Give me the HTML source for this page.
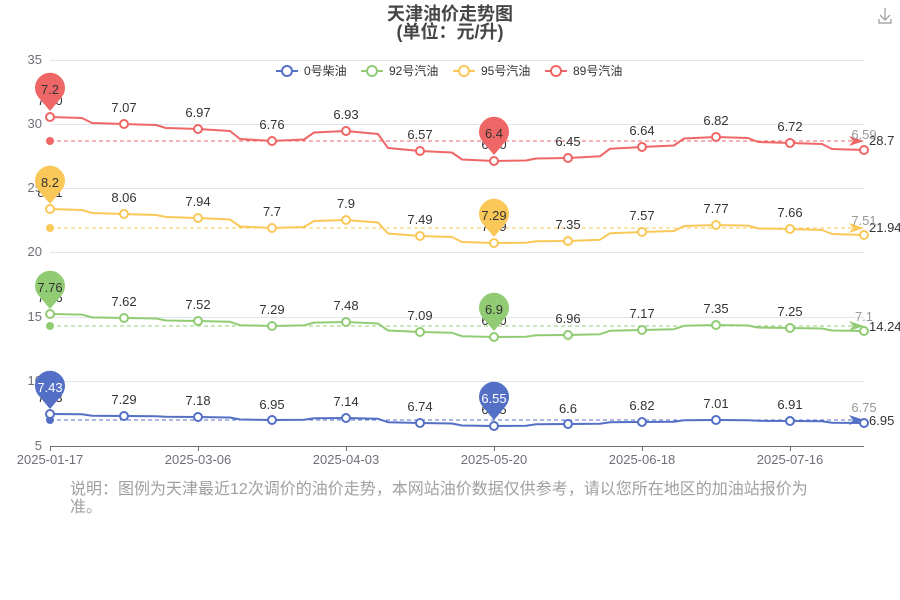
<!DOCTYPE html>
<html><head><meta charset="utf-8"><style>
body{margin:0;background:#fff;}
svg{display:block;font-family:"Liberation Sans","Noto Sans CJK SC",sans-serif;}
.l{font-size:13px;fill:#333;text-anchor:middle;}
.ax{font-size:13px;fill:#6e7079;}
</style></head><body>
<svg width="900" height="600" viewBox="0 0 900 600">
<text x="450" y="20" text-anchor="middle" font-size="18" font-weight="bold" fill="#464646">天津油价走势图</text>
<text x="450" y="38" text-anchor="middle" font-size="18" font-weight="bold" fill="#464646">(单位：元/升)</text>
<g stroke="#999" stroke-width="1.2" fill="none"><path d="M885 8v12M880 15l5 5 5-5M879 19v4h12v-4"/></g>
<g stroke="#e0e6f1" stroke-width="1">
<line x1="50" y1="60.5" x2="864" y2="60.5"/><line x1="50" y1="124.5" x2="864" y2="124.5"/><line x1="50" y1="188.5" x2="864" y2="188.5"/><line x1="50" y1="252.5" x2="864" y2="252.5"/><line x1="50" y1="317.5" x2="864" y2="317.5"/><line x1="50" y1="381.5" x2="864" y2="381.5"/>
</g>
<line x1="50" y1="446.5" x2="864" y2="446.5" stroke="#6e7079"/>
<g stroke="#6e7079"><line x1="50.5" y1="446" x2="50.5" y2="451"/><line x1="198.5" y1="446" x2="198.5" y2="451"/><line x1="346.5" y1="446" x2="346.5" y2="451"/><line x1="494.5" y1="446" x2="494.5" y2="451"/><line x1="642.5" y1="446" x2="642.5" y2="451"/><line x1="790.5" y1="446" x2="790.5" y2="451"/></g>
<g class="ax" text-anchor="end"><text x="42" y="64">35</text><text x="42" y="128">30</text><text x="42" y="192">25</text><text x="42" y="256">20</text><text x="42" y="321">15</text><text x="42" y="385">10</text><text x="42" y="450">5</text></g>
<g class="ax" text-anchor="middle"><text x="50" y="464">2025-01-17</text><text x="198" y="464">2025-03-06</text><text x="346" y="464">2025-04-03</text><text x="494" y="464">2025-05-20</text><text x="642" y="464">2025-06-18</text><text x="790" y="464">2025-07-16</text></g>
<g font-size="12" fill="#333">
<line x1="276" y1="71" x2="298" y2="71" stroke="#5470c6" stroke-width="2"/><circle cx="287" cy="71" r="5" fill="#fff" stroke="#5470c6" stroke-width="2"/><text x="304" y="75">0号柴油</text>
<line x1="361" y1="71" x2="383" y2="71" stroke="#91cc75" stroke-width="2"/><circle cx="372" cy="71" r="5" fill="#fff" stroke="#91cc75" stroke-width="2"/><text x="389" y="75">92号汽油</text>
<line x1="453" y1="71" x2="475" y2="71" stroke="#fac858" stroke-width="2"/><circle cx="464" cy="71" r="5" fill="#fff" stroke="#fac858" stroke-width="2"/><text x="481" y="75">95号汽油</text>
<line x1="545" y1="71" x2="567" y2="71" stroke="#ee6666" stroke-width="2"/><circle cx="556" cy="71" r="5" fill="#fff" stroke="#ee6666" stroke-width="2"/><text x="573" y="75">89号汽油</text>
</g>
<g stroke-dasharray="4,3" stroke-width="1">
<line x1="50" y1="141" x2="860" y2="141" stroke="#ee6666"/>
<line x1="50" y1="228" x2="860" y2="228" stroke="#fac858"/>
<line x1="50" y1="326" x2="860" y2="326" stroke="#91cc75"/>
<line x1="50" y1="420" x2="860" y2="420" stroke="#5470c6"/>
</g>
<circle cx="50" cy="141" r="4" fill="#ee6666"/><circle cx="50" cy="228" r="4" fill="#fac858"/><circle cx="50" cy="326" r="4" fill="#91cc75"/><circle cx="50" cy="420" r="4" fill="#5470c6"/>
<path d="M849 136l15 5-15 5 4-5z" fill="#ee6666"/><path d="M849 223l15 5-15 5 4-5z" fill="#fac858"/><path d="M849 321l15 5-15 5 4-5z" fill="#91cc75"/><path d="M849 415l15 5-15 5 4-5z" fill="#5470c6"/>
<g font-size="13" fill="#333"><text x="869" y="145">28.7</text><text x="869" y="232">21.94</text><text x="869" y="331">14.24</text><text x="869" y="425">6.95</text></g>
<g fill="none" stroke-width="2" stroke-linejoin="round">
<path stroke="#ee6666" d="M50,117 L82,118 L92,123 L124,124 L156,125 L166,128 L198,129 L230,131 L240,139 L272,141 L304,139.5 L314,132.5 L346,131 L378,134 L388,148 L420,151 L452,152.5 L462,159.5 L494,161 L526,160.5 L536,158.5 L568,158 L600,156.3 L610,148.7 L642,147 L674,145.5 L684,138.5 L716,137 L748,138 L758,142 L790,143 L822,144 L832,149 L864,150"/>
<path stroke="#fac858" d="M50,209 L82,210 L92,213 L124,214 L156,215 L166,217 L198,218 L230,219.5 L240,226.5 L272,228 L304,227 L314,221 L346,220 L378,222.5 L388,233.5 L420,236 L452,237 L462,242 L494,243 L526,242.7 L536,241.3 L568,241 L600,239.7 L610,233.3 L642,232 L674,231 L684,226 L716,225 L748,225.6 L758,228.4 L790,229 L822,230 L832,234 L864,235"/>
<path stroke="#91cc75" d="M50,314 L82,314.6 L92,317.4 L124,318 L156,318.5 L166,320.5 L198,321 L230,321.8 L240,325.2 L272,326 L304,325.4 L314,322.6 L346,322 L378,323.5 L388,330.5 L420,332 L452,332.8 L462,336.2 L494,337 L526,336.7 L536,335.3 L568,335 L600,334.2 L610,330.8 L642,330 L674,329.2 L684,325.8 L716,325 L748,325.5 L758,327.5 L790,328 L822,328.5 L832,330.5 L864,331"/>
<path stroke="#5470c6" d="M50,414 L82,414.3 L92,415.7 L124,416 L156,416.2 L166,416.8 L198,417 L230,417.5 L240,419.5 L272,420 L304,419.7 L314,418.3 L346,418 L378,418.8 L388,422.2 L420,423 L452,423.5 L462,425.5 L494,426 L526,425.7 L536,424.3 L568,424 L600,423.7 L610,422.3 L642,422 L674,421.7 L684,420.3 L716,420 L748,420.2 L758,420.8 L790,421 L822,421.3 L832,422.7 L864,423"/>
</g>
<g fill="#fff" stroke-width="2">
<g stroke="#ee6666"><circle cx="50" cy="117" r="4"/><circle cx="124" cy="124" r="4"/><circle cx="198" cy="129" r="4"/><circle cx="272" cy="141" r="4"/><circle cx="346" cy="131" r="4"/><circle cx="420" cy="151" r="4"/><circle cx="494" cy="161" r="4"/><circle cx="568" cy="158" r="4"/><circle cx="642" cy="147" r="4"/><circle cx="716" cy="137" r="4"/><circle cx="790" cy="143" r="4"/><circle cx="864" cy="150" r="4"/></g>
<g stroke="#fac858"><circle cx="50" cy="209" r="4"/><circle cx="124" cy="214" r="4"/><circle cx="198" cy="218" r="4"/><circle cx="272" cy="228" r="4"/><circle cx="346" cy="220" r="4"/><circle cx="420" cy="236" r="4"/><circle cx="494" cy="243" r="4"/><circle cx="568" cy="241" r="4"/><circle cx="642" cy="232" r="4"/><circle cx="716" cy="225" r="4"/><circle cx="790" cy="229" r="4"/><circle cx="864" cy="235" r="4"/></g>
<g stroke="#91cc75"><circle cx="50" cy="314" r="4"/><circle cx="124" cy="318" r="4"/><circle cx="198" cy="321" r="4"/><circle cx="272" cy="326" r="4"/><circle cx="346" cy="322" r="4"/><circle cx="420" cy="332" r="4"/><circle cx="494" cy="337" r="4"/><circle cx="568" cy="335" r="4"/><circle cx="642" cy="330" r="4"/><circle cx="716" cy="325" r="4"/><circle cx="790" cy="328" r="4"/><circle cx="864" cy="331" r="4"/></g>
<g stroke="#5470c6"><circle cx="50" cy="414" r="4"/><circle cx="124" cy="416" r="4"/><circle cx="198" cy="417" r="4"/><circle cx="272" cy="420" r="4"/><circle cx="346" cy="418" r="4"/><circle cx="420" cy="423" r="4"/><circle cx="494" cy="426" r="4"/><circle cx="568" cy="424" r="4"/><circle cx="642" cy="422" r="4"/><circle cx="716" cy="420" r="4"/><circle cx="790" cy="421" r="4"/><circle cx="864" cy="423" r="4"/></g>
</g>
<g class="l">
<text x="50" y="105">7.20</text><text x="124" y="112">7.07</text><text x="198" y="117">6.97</text><text x="272" y="129">6.76</text><text x="346" y="119">6.93</text><text x="420" y="139">6.57</text><text x="494" y="149">6.40</text><text x="568" y="146">6.45</text><text x="642" y="135">6.64</text><text x="716" y="125">6.82</text><text x="790" y="131">6.72</text><text x="864" y="139" fill="#999">6.59</text>
<text x="50" y="197">8.21</text><text x="124" y="202">8.06</text><text x="198" y="206">7.94</text><text x="272" y="216">7.7</text><text x="346" y="208">7.9</text><text x="420" y="224">7.49</text><text x="494" y="231">7.29</text><text x="568" y="229">7.35</text><text x="642" y="220">7.57</text><text x="716" y="213">7.77</text><text x="790" y="217">7.66</text><text x="864" y="225" fill="#999">7.51</text>
<text x="50" y="302">7.76</text><text x="124" y="306">7.62</text><text x="198" y="309">7.52</text><text x="272" y="314">7.29</text><text x="346" y="310">7.48</text><text x="420" y="320">7.09</text><text x="494" y="325">6.90</text><text x="568" y="323">6.96</text><text x="642" y="318">7.17</text><text x="716" y="313">7.35</text><text x="790" y="316">7.25</text><text x="864" y="321" fill="#999">7.1</text>
<text x="50" y="402">7.43</text><text x="124" y="404">7.29</text><text x="198" y="405">7.18</text><text x="272" y="409">6.95</text><text x="346" y="406">7.14</text><text x="420" y="411">6.74</text><text x="494" y="414">6.55</text><text x="568" y="413">6.6</text><text x="642" y="410">6.82</text><text x="716" y="408">7.01</text><text x="790" y="409">6.91</text><text x="864" y="412" fill="#999">6.75</text>
</g>
<g>
<path d="M50 111 L39 98 A15 15 0 1 1 61 98 Z" fill="#ee6666"/><text x="50" y="94" class="l">7.2</text>
<path d="M50 204 L39 191 A15 15 0 1 1 61 191 Z" fill="#fac858"/><text x="50" y="187" class="l">8.2</text>
<path d="M50 309 L39 296 A15 15 0 1 1 61 296 Z" fill="#91cc75"/><text x="50" y="292" class="l">7.76</text>
<path d="M50 409 L39 396 A15 15 0 1 1 61 396 Z" fill="#5470c6"/><text x="50" y="392" class="l" style="fill:#fff">7.43</text>
<path d="M494 155 L483 142 A15 15 0 1 1 505 142 Z" fill="#ee6666"/><text x="494" y="138" class="l">6.4</text>
<path d="M494 237 L483 224 A15 15 0 1 1 505 224 Z" fill="#fac858"/><text x="494" y="220" class="l">7.29</text>
<path d="M494 331 L483 318 A15 15 0 1 1 505 318 Z" fill="#91cc75"/><text x="494" y="314" class="l">6.9</text>
<path d="M494 420 L483 407 A15 15 0 1 1 505 407 Z" fill="#5470c6"/><text x="494" y="403" class="l" style="fill:#fff">6.55</text>
</g>
<g font-size="16" fill="#a0a0a0"><text x="70" y="494">说明：图例为天津最近12次调价的油价走势，本网站油价数据仅供参考，请以您所在地区的加油站报价为</text><text x="70" y="512">准。</text></g>
</svg>
</body></html>
